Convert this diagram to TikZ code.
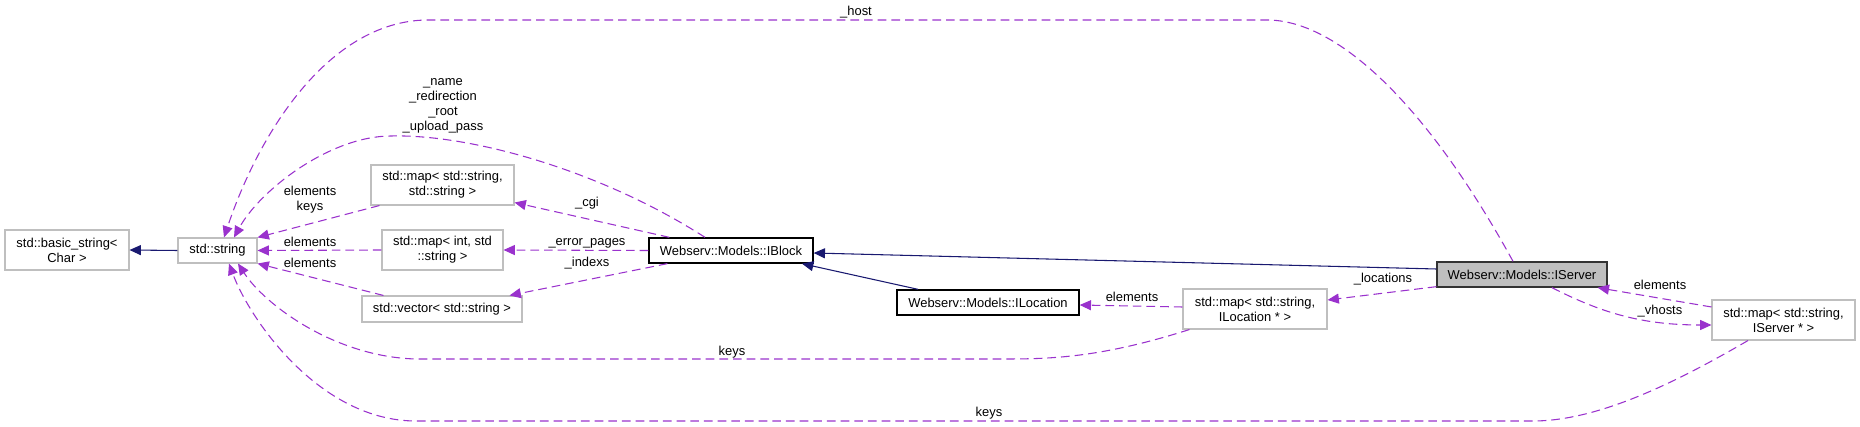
\documentclass[tikz,border=0pt]{standalone}
\usepackage{fontspec}
\setmainfont{Liberation Sans}
\usepackage{tikz}
\usepackage{xcolor}
\usetikzlibrary{arrows.meta,calc}
\definecolor{usepurple}{RGB}{154,50,205}
\definecolor{basenavy}{RGB}{25,25,112}
\definecolor{extgrey}{RGB}{191,191,191}

\begin{document}
\begin{tikzpicture}[
    x=0.75pt, y=-0.75pt,
    every node/.style={font=\fontsize{9.7}{11.25}\selectfont, inner sep=0pt, align=center},
    extcls/.style={draw=extgrey, line width=0.8pt, fill=white},
    ourcls/.style={draw=black, line width=1pt, fill=white},
    mine/.style={draw=black!80, line width=1pt, fill=extgrey},
    inherit/.style={draw=basenavy, line width=0.8pt, -{Triangle[length=8.5pt,width=7.5pt]}},
    uses/.style={draw=usepurple, line width=0.8pt, dash pattern=on 6.5pt off 3.75pt, -{Triangle[length=8.5pt,width=7.5pt]}},
    lbl/.style={text=black}
]
\useasboundingbox (0,0) rectangle (1860,427);

% Classes
\node[extcls, minimum width=93pt, minimum height=30pt] (bstr) at (67,250) {std::basic\_string\textless\\Char \textgreater};
\node[extcls, minimum width=59.25pt, minimum height=18.75pt] (str) at (217.5,250.5) {std::string};
\node[extcls, minimum width=107.25pt, minimum height=30pt] (mapss) at (442.5,185) {std::map\textless{} std::string,\\std::string \textgreater};
\node[extcls, minimum width=90.75pt, minimum height=30pt] (mapis) at (442.5,250) {std::map\textless{} int, std\\::string \textgreater};
\node[extcls, minimum width=120pt, minimum height=19.5pt] (vecs) at (442,309) {std::vector\textless{} std::string \textgreater};
\node[ourcls, minimum width=123pt, minimum height=18.75pt] (iblock) at (731,250.5) {Webserv::Models::IBlock};
\node[ourcls, minimum width=136.5pt, minimum height=18.75pt] (iloc) at (988,302.5) {Webserv::Models::ILocation};
\node[extcls, minimum width=108pt, minimum height=30pt] (mapsl) at (1255,309) {std::map\textless{} std::string,\\ILocation * \textgreater};
\node[mine, minimum width=127.5pt, minimum height=18.75pt] (iserver) at (1522,274.5) {Webserv::Models::IServer};
\node[extcls, minimum width=107.25pt, minimum height=30pt] (mapsv) at (1783.5,320) {std::map\textless{} std::string,\\IServer * \textgreater};

% Inheritance
\draw[inherit] (str.west) -- (bstr.east);
\draw[inherit] ($(iserver.west)+(0,-5.5)$) -- ($(iblock.east)+(0,2.5)$);
\draw[inherit] ($(iloc.north)+(-70,0)$) -- ($(iblock.south)+(71,0)$);

% Usage
\draw[uses] ($(mapss.south west)+(9,0)$) -- (str.north east);
\draw[uses] (mapis.west) -- (str.east);
\draw[uses] ($(vecs.north west)+(22,0)$) -- (str.south east);
\draw[uses] ($(iblock.north)+(-26,0)$) .. controls (600,170) and (470,134) .. (391,136)
    .. controls (330,136) and (260,190) .. ($(str.north)+(16.5,0)$);
\draw[uses] ($(iserver.north)+(-9,0)$) .. controls (1430,110) and (1340,20) .. (1267,20)
    -- (426,20) .. controls (330,22) and (260,130) .. ($(str.north)+(6.5,0)$);
\draw[uses] ($(mapsl.south west)+(7,0)$) .. controls (1100,358) and (1050,359) .. (1003,359)
    -- (416,359) .. controls (335,357) and (265,305) .. ($(str.south)+(20.5,0)$);
\draw[uses] ($(mapsv.south)+(-35.5,0)$) .. controls (1680,380) and (1600,421) .. (1533,421)
    -- (416,421) .. controls (320,421) and (250,320) .. ($(str.south)+(11.5,0)$);
\draw[uses] ($(iblock.north west)+(21,0)$) -- ($(mapss.south east)+(0,-3)$);
\draw[uses] (iblock.west) -- (mapis.east);
\draw[uses] ($(iblock.south west)+(19,0)$) -- ($(vecs.north east)+(-13,0)$);
\draw[uses] ($(mapsl.west)+(0,-2)$) -- ($(iloc.east)+(0,2.5)$);
\draw[uses] ($(iserver.south west)+(0,-1)$) -- ($(mapsl.east)+(0,-9)$);
\draw[uses] ($(mapsv.west)+(0,-13)$) -- ($(iserver.south east)+(-10,0)$);
\draw[uses] ($(iserver.south)+(30,0)$) .. controls (1600,312) and (1640,325) .. ($(mapsv.west)+(0,5)$);

% Labels
\node[lbl] (l-ek) at (310,199.5) {elements\\keys};
\node[lbl] (l-e1) at (310,242) {elements};
\node[lbl] (l-e2) at (310,263) {elements};
\node[lbl] (l-name) at (443,105.5) {\_name\\\_redirection\\\_root\\\_upload\_pass};
\node[lbl] (l-host) at (856,12) {\_host};
\node[lbl] (l-cgi) at (587,203) {\_cgi};
\node[lbl] (l-err) at (587,243) {\_error\_pages};
\node[lbl] (l-idx) at (587,263) {\_indexs};
\node[lbl] (l-k1) at (732,352) {keys};
\node[lbl] (l-k2) at (989,413) {keys};
\node[lbl] (l-e3) at (1132,297) {elements};
\node[lbl] (l-loc) at (1383,279) {\_locations};
\node[lbl] (l-e4) at (1660,285) {elements};
\node[lbl] (l-vh) at (1660,311) {\_vhosts};

\end{tikzpicture}
\end{document}
